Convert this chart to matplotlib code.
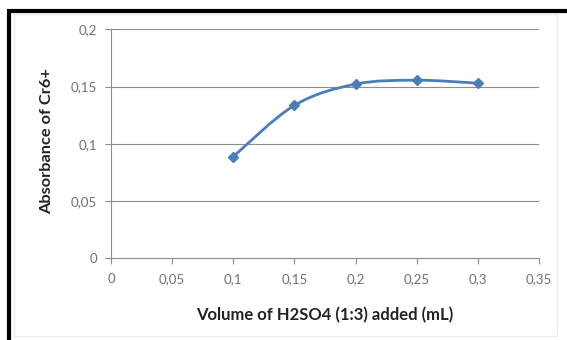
import numpy as np
import matplotlib
matplotlib.use("Agg")
import matplotlib.pyplot as plt
from matplotlib.path import Path
from matplotlib.patches import PathPatch, Rectangle

# data
volume_ml = [0.10, 0.15, 0.20, 0.25, 0.30]
absorbance = [0.0888, 0.1336, 0.1522, 0.1556, 0.1530]

x_ticks = [0, 0.05, 0.10, 0.15, 0.20, 0.25, 0.30, 0.35]
y_ticks = [0, 0.05, 0.10, 0.15, 0.20]

LINE = "#4A7EBB"
GRID = "#8c8c8c"
TICKTXT = "#707070"


def smooth_path(xs, ys):
    """Excel-style smoothed line: Catmull-Rom segments as cubic Beziers."""
    p = np.column_stack([xs, ys]).astype(float)
    n = len(p)
    verts = [p[0]]
    codes = [Path.MOVETO]
    for i in range(n - 1):
        p0 = p[i - 1] if i > 0 else p[i]
        p3 = p[i + 2] if i + 2 < n else p[i + 1]
        c1 = p[i] + (p[i + 1] - p0) / 6.0
        c2 = p[i + 1] - (p3 - p[i]) / 6.0
        verts += [c1, c2, p[i + 1]]
        codes += [Path.CURVE4] * 3
    return Path(verts, codes)


plt.rcParams["font.family"] = ["Lato", "DejaVu Sans"]

fig = plt.figure(figsize=(5.67, 3.40), dpi=100)
fig.patch.set_facecolor("white")
ax = fig.add_axes([111 / 567, 1 - 258 / 340, 428 / 567, 228.5 / 340])

ax.set_xlim(0, 0.35)
ax.set_ylim(0, 0.2)

for yv in y_ticks[1:]:
    ax.axhline(yv, color=GRID, lw=0.8, zorder=1)

ax.add_patch(PathPatch(smooth_path(volume_ml, absorbance), fill=False,
                       edgecolor=LINE, lw=2.0, zorder=3, capstyle="round"))
ax.plot(volume_ml, absorbance, linestyle="none", marker="D", ms=5.5,
        color=LINE, mec=LINE, zorder=4)

for side in ["top", "right"]:
    ax.spines[side].set_visible(False)
for side in ["left", "bottom"]:
    ax.spines[side].set_color(GRID)
    ax.spines[side].set_linewidth(0.8)

ax.set_xticks(x_ticks)
ax.set_yticks(y_ticks)
fmt = lambda v: ("%g" % v).replace(".", ",")
ax.set_xticklabels([fmt(v) for v in x_ticks])
ax.set_yticklabels([fmt(v) for v in y_ticks])
ax.tick_params(axis="both", length=4, width=0.8, color=GRID,
               labelsize=9.5, labelcolor=TICKTXT)
ax.tick_params(axis="x", pad=7)
ax.tick_params(axis="y", pad=6)

ax.set_xlabel("Volume of H2SO4 (1:3) added (mL)", fontsize=12,
              fontweight="bold", color="#222222", va="center")
ax.set_ylabel("Absorbance of Cr6+", fontsize=11.8, fontweight="bold",
              color="#222222", va="center")
ax.xaxis.set_label_coords(0.5, (258 - 315) / 228.5)
ax.yaxis.set_label_coords((46.7 - 111) / 428, (258 - 140.8) / 228.5)

# black frame around the chart (top and left edges visible)
fig.patches.append(Rectangle((9 / 567, -0.2), 2.0, 1.2 - 11.3 / 340,
                             transform=fig.transFigure, fill=False,
                             edgecolor="black", lw=3.0))
fig.patches.append(Rectangle((14 / 567, 4 / 340), (557 - 14) / 567,
                             (326 - 4) / 340, transform=fig.transFigure,
                             fill=False, edgecolor="#ececec", lw=0.8))

fig.savefig("out.png", dpi=100, facecolor="white")
